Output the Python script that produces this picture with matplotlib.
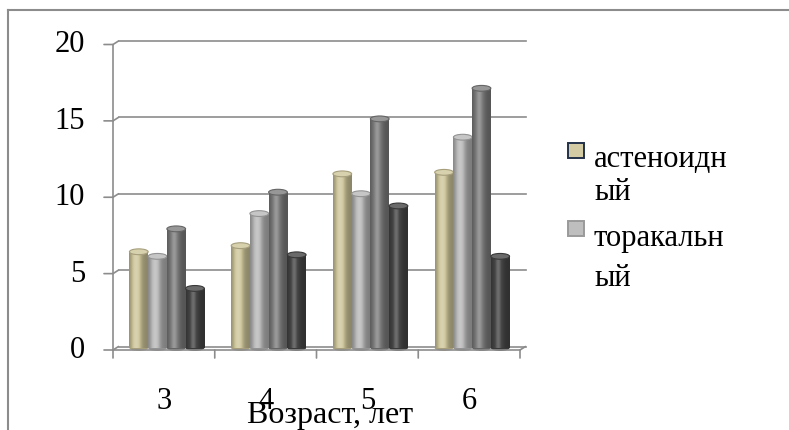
import numpy as np
import matplotlib
matplotlib.use("Agg")
import matplotlib.pyplot as plt
from matplotlib.patches import Ellipse, Rectangle, ConnectionPatch
from matplotlib.lines import Line2D
from matplotlib.transforms import offset_copy
from matplotlib.colors import to_rgb

ages = ["3", "4", "5", "6"]
series_names = ["астеноидный", "торакальный", "мускульный", "дигестивный"]
asthenoid = [6.3, 6.7, 11.4, 11.5]
thoracic = [6.0, 8.8, 10.1, 13.8]
muscular = [7.8, 10.2, 15.0, 17.0]
digestive = [3.9, 6.1, 9.3, 6.0]
y_ticks = [0, 5, 10, 15, 20]
legend_labels = ["астеноидн\nый", "торакальн\nый"]

colors = ["#CFC69B", "#B8B8B8", "#7E7E7E", "#474747"]
grid_c = "#8C8C8C"

plt.rcParams["font.family"] = ["Liberation Serif", "DejaVu Serif"]
FS = 22

W, H = 789, 430
fig = plt.figure(figsize=(W / 100, H / 100), dpi=100)
ax = fig.add_axes([116 / W, (H - 348) / H, 407 / W, (348 - 42.5) / H])
ax.set_xlim(-0.5, 3.5)
ax.set_ylim(0, 20)
ax.axis("off")

# front and back planes of the pseudo-3d box
front = offset_copy(ax.transData, fig=fig, x=-3, y=-2, units="dots")
back = offset_copy(ax.transData, fig=fig, x=2.5, y=1.5, units="dots")
lw = 1.2

for v in y_ticks:
    ax.plot([-0.5, 3.5], [v, v], color=grid_c, lw=lw, transform=back, clip_on=False, zorder=1)
    ax.add_artist(ConnectionPatch((-0.5, v), (-0.5, v), coordsA=front, coordsB=back,
                                  color=grid_c, lw=lw, zorder=1))
    tk = offset_copy(front, fig=fig, x=-9, y=0, units="dots")
    ax.add_artist(ConnectionPatch((-0.5, v), (-0.5, v), coordsA=tk, coordsB=front,
                                  color=grid_c, lw=lw, zorder=1))
    ax.text(-0.5, v, str(v), transform=offset_copy(front, fig=fig, x=-28, y=-8, units="dots"),
            ha="right", va="baseline", fontsize=FS, clip_on=False)

ax.plot([-0.5, -0.5], [0, 20], color=grid_c, lw=lw, transform=front, clip_on=False, zorder=1)
ax.plot([-0.5, 3.5], [0, 0], color=grid_c, lw=lw, transform=front, clip_on=False, zorder=6)
ax.add_artist(ConnectionPatch((3.5, 0), (3.5, 0), coordsA=front, coordsB=back,
                              color=grid_c, lw=lw, zorder=6))
for i in range(5):
    x = i - 0.5
    dn = offset_copy(front, fig=fig, x=0, y=-8, units="dots")
    ax.add_artist(ConnectionPatch((x, 0), (x, 0), coordsA=front, coordsB=dn,
                                  color=grid_c, lw=lw, zorder=6))

for i, lab in enumerate(ages):
    ax.text(i, 0, lab, transform=offset_copy(ax.transData, fig=fig, x=-3, y=-61, units="dots"),
            ha="center", va="baseline", fontsize=FS, clip_on=False)
ax.text(0.526, 0, "Возраст, лет", transform=offset_copy(ax.transAxes, fig=fig, x=0, y=-75, units="dots"),
        ha="center", va="baseline", fontsize=23, clip_on=False)

# cylinder bars
w = 0.184
cap_h = 0.38
t = np.linspace(0, 1, 64)
prof = 0.68 + 0.45 * np.exp(-((t - 0.38) / 0.27) ** 2)


def shade(c, f):
    c = np.array(to_rgb(c))
    out = np.where(f <= 1, c * f, c + (1 - c) * (f - 1) * 1.6)
    return np.clip(out, 0, 1)


data = [asthenoid, thoracic, muscular, digestive]
for s, vals in enumerate(data):
    grad = np.array([[shade(colors[s], f) for f in prof]])
    for g, v in enumerate(vals):
        x = g + (s - 1.5) * w
        b = ax.bar(x, v, w, color=colors[s], edgecolor="none", zorder=2 + s * 0.1 + g)[0]
        im = ax.imshow(grad, extent=(x - w / 2, x + w / 2, 0, v), aspect="auto",
                       zorder=2 + s * 0.1 + g, interpolation="bilinear")
        im.set_clip_path(b)
        ax.add_patch(Ellipse((x, 0), w, cap_h, facecolor=shade(colors[s], 0.8),
                             edgecolor="none", zorder=1.9 + s * 0.1 + g, clip_on=False))
        ax.add_patch(Ellipse((x, v), w, cap_h, facecolor=shade(colors[s], 1.12),
                             edgecolor=shade(colors[s], 0.8), lw=0.8,
                             zorder=2.05 + s * 0.1 + g))
ax.set_xlim(-0.5, 3.5)
ax.set_ylim(0, 20)

# legend (only two entries fit); label text wraps onto a second line
box_top = [143, 221]
last_base = [200, 286]
spacing = [1.2, 1.5]
for k, lab in enumerate(legend_labels):
    ec = "#23314A" if k == 0 else "#9A9A9A"
    fig.add_artist(Rectangle((568 / W, (H - box_top[k] - 15) / H), 16 / W, 15 / H,
                             facecolor=shade(colors[k], 1.05), edgecolor=ec, lw=1.4,
                             transform=fig.transFigure))
    fig.text(594 / W, (H - last_base[k]) / H, lab, fontsize=FS, ha="left", va="baseline",
             linespacing=spacing[k])

# outer frame
fig.add_artist(Line2D([8 / W, 8 / W], [0, (H - 10) / H], color=grid_c, lw=1.5,
                      transform=fig.transFigure))
fig.add_artist(Line2D([8 / W, 1], [(H - 10) / H, (H - 10) / H], color=grid_c, lw=1.5,
                      transform=fig.transFigure))

fig.savefig("out.png", dpi=100)
